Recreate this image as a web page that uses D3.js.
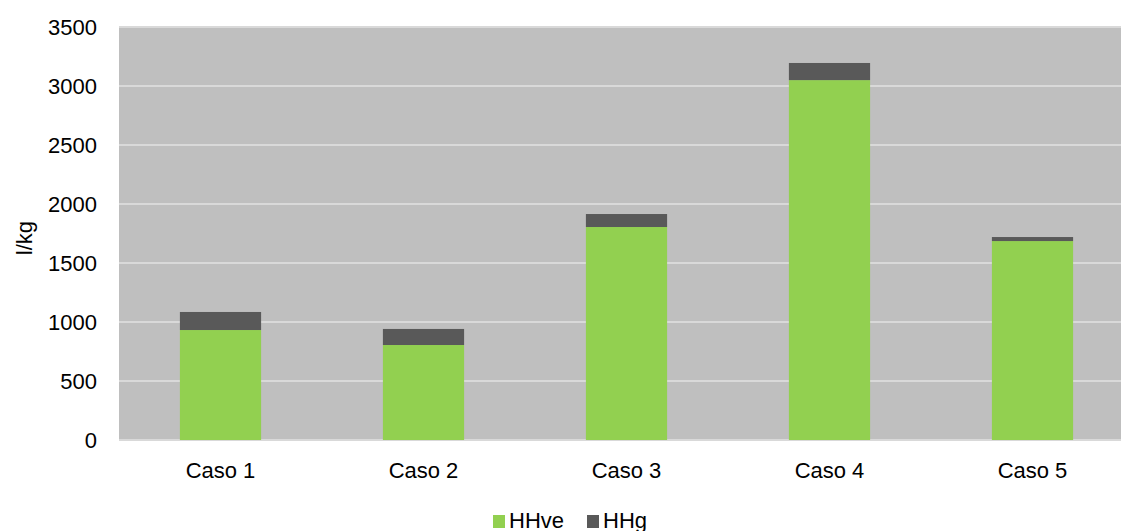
<!DOCTYPE html>
<html>
<head>
<meta charset="utf-8">
<script src="https://cdn.jsdelivr.net/npm/d3@7"></script>
<style>
	body { margin: 0; background: #fff; }
	text { font-family: "Liberation Sans", Arial, sans-serif; fill: #000; }
</style>
</head>
<body>
<script>
var categories = ["Caso 1", "Caso 2", "Caso 3", "Caso 4", "Caso 5"];
var hhve = [932, 805, 1805, 3050, 1686];
var hhg = [153, 136, 110, 145, 34];
var yTicks = [0, 500, 1000, 1500, 2000, 2500, 3000, 3500];
var seriesNames = ["HHve", "HHg"];
var seriesColors = ["#92d050", "#595959"];

var W = 1121, H = 531;
var plotLeft = 119, plotRight = 1134, plotTop = 27, plotBottom = 440;
var fs = 22;

var svg = d3.select("body")
		.append("svg")
		.attr("width", W)
		.attr("height", H);

var x = d3.scaleBand()
		.domain(categories)
		.range([plotLeft, plotRight])
		.paddingInner(0.6)
		.paddingOuter(0.3);

var y = d3.scaleLinear()
		.domain([0, 3500])
		.range([plotBottom, plotTop]);

// plot background
svg.append("rect")
		.attr("x", plotLeft)
		.attr("y", plotTop)
		.attr("width", plotRight - plotLeft)
		.attr("height", plotBottom - plotTop)
		.attr("fill", "#bfbfbf");

// gridlines
svg.append("g")
	.selectAll("line")
	.data(yTicks)
	.enter().append("line")
		.attr("x1", plotLeft)
		.attr("x2", plotRight)
		.attr("y1", function(d) { return y(d); })
		.attr("y2", function(d) { return y(d); })
		.attr("stroke", "#d9d9d9")
		.attr("stroke-width", 2);

// y tick labels
svg.append("g")
	.selectAll("text")
	.data(yTicks)
	.enter().append("text")
		.attr("x", 97)
		.attr("y", function(d) { return y(d); })
		.attr("dy", "0.36em")
		.attr("text-anchor", "end")
		.attr("font-size", fs)
		.text(function(d) { return d; });

// stacked bars
var rows = categories.map(function(c, i) { return { cat: c, HHve: hhve[i], HHg: hhg[i] }; });
var stack = d3.stack().keys(seriesNames)(rows);

svg.append("g")
	.selectAll("g")
	.data(stack)
	.enter().append("g")
		.attr("fill", function(d, i) { return seriesColors[i]; })
	.selectAll("rect")
	.data(function(d) { return d; })
	.enter().append("rect")
		.attr("x", function(d) { return x(d.data.cat); })
		.attr("width", x.bandwidth())
		.attr("y", function(d) { return y(d[1]); })
		.attr("height", function(d) { return y(d[0]) - y(d[1]); });

// x labels
svg.append("g")
	.selectAll("text")
	.data(categories)
	.enter().append("text")
		.attr("x", function(d) { return x(d) + x.bandwidth() / 2; })
		.attr("y", 478)
		.attr("text-anchor", "middle")
		.attr("font-size", fs)
		.text(function(d) { return d; });

// y axis title
svg.append("text")
		.attr("transform", "translate(32,238) rotate(-90)")
		.attr("text-anchor", "middle")
		.attr("font-size", fs)
		.text("l/kg");

// legend
var legend = svg.append("g");
var legX = [493, 587];
seriesNames.forEach(function(name, i) {
	legend.append("rect")
		.attr("x", legX[i])
		.attr("y", 515)
		.attr("width", 12)
		.attr("height", 13)
		.attr("fill", seriesColors[i]);
	legend.append("text")
		.attr("x", legX[i] + 16)
		.attr("y", 528)
		.attr("font-size", fs)
		.text(name);
});
</script>
</body>
</html>
